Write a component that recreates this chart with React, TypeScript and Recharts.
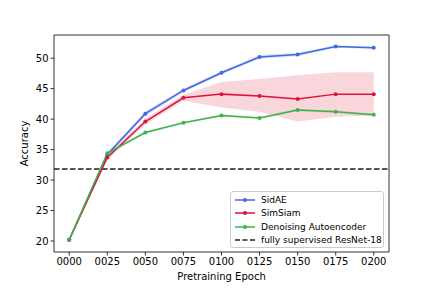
import React from "react";
import { ComposedChart, Line, Area, XAxis, YAxis, ReferenceLine, Label } from "recharts";

const epochs = [0, 25, 50, 75, 100, 125, 150, 175, 200];
const sidae = [20.2, 34.2, 40.9, 44.7, 47.6, 50.2, 50.6, 51.9, 51.7];
const sidaeLo = [20.0, 33.9, 40.5, 44.4, 47.3, 49.9, 50.3, 51.7, 51.5];
const sidaeHi = [20.4, 34.5, 41.3, 45.0, 47.9, 50.5, 50.9, 52.1, 51.9];
const simsiam = [20.2, 33.7, 39.6, 43.5, 44.1, 43.8, 43.3, 44.1, 44.1];
const simsiamLo = [20.0, 33.3, 39.1, 43.0, 41.9, 41.2, 39.6, 40.4, 40.6];
const simsiamHi = [20.4, 34.1, 40.1, 44.0, 46.1, 46.6, 47.2, 47.7, 47.7];
const dae = [20.2, 34.4, 37.8, 39.4, 40.6, 40.2, 41.5, 41.2, 40.7];
const daeLo = [20.1, 34.2, 37.6, 39.3, 40.4, 40.0, 41.3, 41.0, 40.5];
const daeHi = [20.3, 34.6, 38.0, 39.5, 40.8, 40.4, 41.7, 41.4, 40.9];
const baseline = 31.8;
const yTicks = [20, 25, 30, 35, 40, 45, 50];

const BLUE = "#4169E1";
const RED = "#DC143C";
const GREEN = "#3CB44B";

const X_MIN = -10;
const X_MAX = 210;
const Y_MIN = 18.2;
const Y_MAX = 53.8;

const data = epochs.map((e, i) => ({
  epoch: e,
  sidae: sidae[i],
  sidaeBand: [sidaeLo[i], sidaeHi[i]],
  simsiam: simsiam[i],
  simsiamBand: [simsiamLo[i], simsiamHi[i]],
  dae: dae[i],
  daeBand: [daeLo[i], daeHi[i]],
}));

const font = "DejaVu Sans, sans-serif";
const tick = { fill: "#000", fontSize: 10, fontFamily: font };

const legendItems = [
  { name: "SidAE", color: BLUE, dashed: false },
  { name: "SimSiam", color: RED, dashed: false },
  { name: "Denoising Autoencoder", color: GREEN, dashed: false },
  { name: "fully supervised ResNet-18", color: "#222", dashed: true },
];

export default function App() {
  return (
    <div style={{ position: "absolute", left: 0, top: 0, width: 432, height: 288, background: "#fff" }}>
      <ComposedChart width={432} height={288} data={data} margin={{ top: 35, right: 43, bottom: 6, left: 20 }}>
        <XAxis
          dataKey="epoch"
          type="number"
          domain={[X_MIN, X_MAX]}
          ticks={epochs}
          tickFormatter={(v: number) => String(v).padStart(4, "0")}
          tick={tick}
          tickSize={3.5}
          height={30}
          axisLine={{ stroke: "#000", strokeWidth: 0.8 }}
          tickLine={{ stroke: "#000", strokeWidth: 0.8 }}
        >
          <Label value="Pretraining Epoch" position="insideBottom" offset={2} style={{ fontSize: 10, fontFamily: font, fill: "#000" }} />
        </XAxis>
        <YAxis
          type="number"
          domain={[Y_MIN, Y_MAX]}
          ticks={yTicks}
          tick={tick}
          tickSize={3.5}
          width={34}
          axisLine={{ stroke: "#000", strokeWidth: 0.8 }}
          tickLine={{ stroke: "#000", strokeWidth: 0.8 }}
        >
          <Label value="Accuracy" angle={-90} position="insideLeft" offset={4} style={{ fontSize: 10, fontFamily: font, fill: "#000", textAnchor: "middle" }} />
        </YAxis>
        <Area dataKey="simsiamBand" stroke="none" fill={RED} fillOpacity={0.18} isAnimationActive={false} />
        <Area dataKey="sidaeBand" stroke="none" fill={BLUE} fillOpacity={0.2} isAnimationActive={false} />
        <Area dataKey="daeBand" stroke="none" fill={GREEN} fillOpacity={0.2} isAnimationActive={false} />
        <ReferenceLine y={baseline} stroke="#222" strokeWidth={1.5} strokeDasharray="5.5 2.5" />
        <ReferenceLine y={Y_MAX} stroke="#000" strokeWidth={0.8} />
        <ReferenceLine x={X_MAX} stroke="#000" strokeWidth={0.8} />
        <Line dataKey="sidae" stroke={BLUE} strokeWidth={1.5} dot={{ r: 2, fill: BLUE, strokeWidth: 0 }} isAnimationActive={false} />
        <Line dataKey="simsiam" stroke={RED} strokeWidth={1.5} dot={{ r: 2, fill: RED, strokeWidth: 0 }} isAnimationActive={false} />
        <Line dataKey="dae" stroke={GREEN} strokeWidth={1.5} dot={{ r: 2, fill: GREEN, strokeWidth: 0 }} isAnimationActive={false} />
      </ComposedChart>
      <div
        style={{
          position: "absolute",
          left: 230,
          top: 191,
          width: 154,
          height: 57,
          border: "1px solid #ccc",
          borderRadius: 3,
          background: "rgba(255,255,255,0.8)",
          fontFamily: font,
          fontSize: 9,
          boxSizing: "border-box",
          padding: "1px 3px",
        }}
      >
        {legendItems.map((it) => (
          <div key={it.name} style={{ display: "flex", alignItems: "center", height: 13.5, whiteSpace: "nowrap" }}>
            <svg width={22} height={10} style={{ marginRight: 5, flexShrink: 0 }}>
              <line x1={1} y1={5} x2={21} y2={5} stroke={it.color} strokeWidth={1.5} strokeDasharray={it.dashed ? "5 2.5" : undefined} />
              {!it.dashed && <circle cx={11} cy={5} r={2} fill={it.color} />}
            </svg>
            <span>{it.name}</span>
          </div>
        ))}
      </div>
    </div>
  );
}
